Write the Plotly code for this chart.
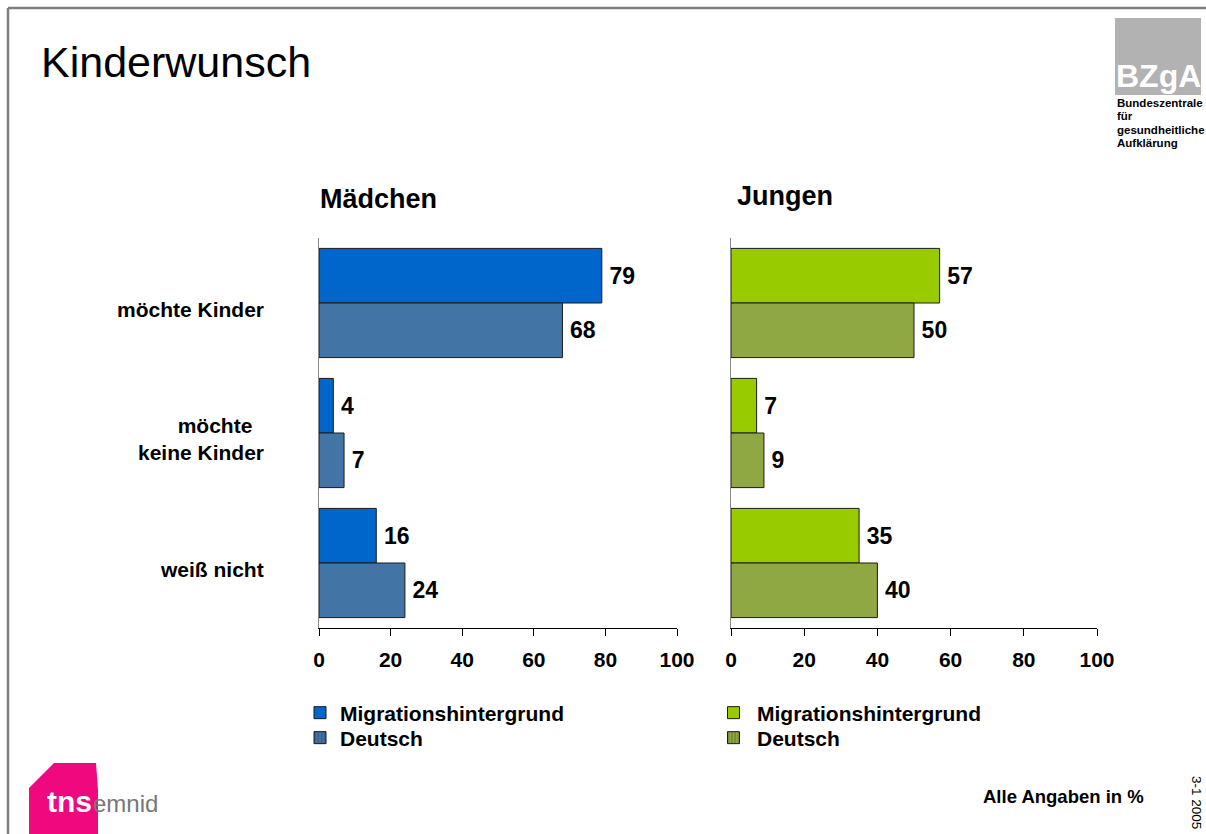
import plotly.graph_objects as go

W, H = 1206, 834

# --- data ---------------------------------------------------------------
categories = ["möchte Kinder", "möchte keine Kinder", "weiß nicht"]
category_labels = ["möchte Kinder", "möchte\u00a0\u00a0<br>keine Kinder", "weiß nicht"]
series_names = ["Migrationshintergrund", "Deutsch"]

maedchen_migration = [79, 4, 16]
maedchen_deutsch = [68, 7, 24]
jungen_migration = [57, 7, 35]
jungen_deutsch = [50, 9, 40]

x_ticks = [0, 20, 40, 60, 80, 100]

panel_titles = ["Mädchen", "Jungen"]
logo_lines = ["Bundeszentrale", "für", "gesundheitliche", "Aufklärung"]

# --- styling ------------------------------------------------------------
FONT = "Liberation Sans, Arial, sans-serif"
BLUE_MIG = "#0066CC"
BLUE_DE = "#4274A6"
GREEN_MIG = "#99CC00"
GREEN_DE = "#8FA843"
BAR_W = 0.42


def px(x):
    return x / W


def py(y):
    return 1 - y / H


fig = go.Figure()

label_font = dict(family=FONT, size=23, color="black", weight="bold")


def add_panel(xa, ya, mig, de, c_mig, c_de, stripe, leg_mig, leg_de):
    fig.add_trace(go.Bar(
        x=mig, y=categories, orientation="h", name=series_names[0],
        xaxis=xa, yaxis=ya, offset=-BAR_W, width=BAR_W,
        marker=dict(color=c_mig, line=dict(color="#1a1a1a", width=1)),
        text=mig, texttemplate="\u2009%{x}", textposition="outside",
        textfont=label_font, cliponaxis=False,
        legend=leg_mig, showlegend=True, hoverinfo="skip",
    ))
    fig.add_trace(go.Bar(
        x=de, y=categories, orientation="h", name=series_names[1],
        xaxis=xa, yaxis=ya, offset=0, width=BAR_W,
        marker=dict(color=c_de, line=dict(color="#1a1a1a", width=1)),
        text=de, texttemplate="\u2009%{x}", textposition="outside",
        textfont=label_font, cliponaxis=False,
        showlegend=False, hoverinfo="skip",
    ))
    # legend-only entry with the striped swatch
    fig.add_trace(go.Bar(
        x=[None], y=[None], orientation="h", name=series_names[1],
        xaxis="x3", yaxis="y3",
        marker=dict(color=c_de, line=dict(color="#1a1a1a", width=1),
                    pattern=dict(shape="|", fgcolor=stripe, bgcolor=c_de,
                                 size=4, solidity=0.35)),
        legend=leg_de, showlegend=True,
    ))


add_panel("x", "y", maedchen_migration, maedchen_deutsch,
          BLUE_MIG, BLUE_DE, "#1f3a66", "legend", "legend2")
add_panel("x2", "y2", jungen_migration, jungen_deutsch,
          GREEN_MIG, GREEN_DE, "#4a5a10", "legend3", "legend4")

y_top, y_bot = 238, 628
xaxis_common = dict(
    range=[0, 100], tickvals=x_ticks, ticks="outside", ticklen=7,
    tickcolor="black", tickwidth=1, showline=True, linecolor="black",
    linewidth=1, showgrid=False, zeroline=False, fixedrange=True,
    ticklabelstandoff=6, automargin=False,
    tickfont=dict(family=FONT, size=21, color="black", weight="bold"),
)
yaxis_common = dict(
    categoryorder="array", categoryarray=categories, autorange="reversed",
    showline=True, linecolor="#888888", linewidth=1, showticklabels=False,
    ticks="", showgrid=False, zeroline=False, fixedrange=True, automargin=False,
    domain=[py(y_bot), py(y_top)],
)

legend_font = dict(family=FONT, size=21, color="black", weight="bold")


def legend_box(x, y, itemwidth=30):
    return dict(x=px(x), y=py(y), xanchor="left", yanchor="middle",
                font=legend_font, bgcolor="rgba(0,0,0,0)", itemwidth=itemwidth,
                itemclick=False, itemdoubleclick=False)


fig.update_layout(
    width=W, height=H, autosize=False,
    margin=dict(l=0, r=0, t=0, b=0, pad=0, autoexpand=False),
    paper_bgcolor="white", plot_bgcolor="rgba(0,0,0,0)",
    barmode="overlay",
    showlegend=True,
    font=dict(family=FONT, color="black"),
    xaxis=dict(xaxis_common, domain=[px(319), px(677)], anchor="y"),
    yaxis=dict(yaxis_common, anchor="x"),
    xaxis2=dict(xaxis_common, domain=[px(731), px(1097)], anchor="y2"),
    yaxis2=dict(yaxis_common, anchor="x2"),
    xaxis3=dict(visible=False, domain=[0, 0.001], anchor="y3"),
    yaxis3=dict(visible=False, domain=[0, 0.001], anchor="x3"),
    legend=legend_box(300, 713),
    legend2=legend_box(300, 738),
    legend3=legend_box(710, 713, 37),
    legend4=legend_box(710, 738, 37),
)

annotations = []
# page title
annotations.append(dict(x=px(39), y=py(62), xref="paper", yref="paper",
                        text="Kinderwunsch", showarrow=False, xanchor="left",
                        yanchor="middle", font=dict(family=FONT, size=43, color="black")))
# panel titles
for title, xpos, ypos in zip(panel_titles, [318, 735], [199, 196]):
    annotations.append(dict(x=px(xpos), y=py(ypos), xref="paper", yref="paper",
                            text=title, showarrow=False, xanchor="left", yanchor="middle",
                            font=dict(family=FONT, size=27, color="black", weight="bold")))
# category labels
for cat, lab in zip(categories, category_labels):
    annotations.append(dict(x=px(266), y=cat, xref="paper", yref="y", yshift=-6,
                            text=lab, showarrow=False, xanchor="right", yanchor="middle",
                            align="right",
                            font=dict(family=FONT, size=21, color="black", weight="bold")))
# footer
annotations.append(dict(x=px(1146), y=py(796), xref="paper", yref="paper",
                        text="Alle Angaben in %", showarrow=False, xanchor="right",
                        yanchor="middle",
                        font=dict(family=FONT, size=18.5, color="black", weight="bold")))
annotations.append(dict(x=px(1197), y=py(802), xref="paper", yref="paper",
                        text="3-1 2005", showarrow=False, textangle=90,
                        xanchor="center", yanchor="middle",
                        font=dict(family=FONT, size=13.5, color="black")))
# BZgA logo
annotations.append(dict(x=px(1158), y=py(76), xref="paper", yref="paper",
                        text="BZgA", showarrow=False, xanchor="center", yanchor="middle",
                        font=dict(family=FONT, size=32, color="white", weight="bold")))
for i, line in enumerate(logo_lines):
    annotations.append(dict(x=px(1115), y=py(103 + 13.3 * i), xref="paper", yref="paper",
                            text=line, showarrow=False, xanchor="left", yanchor="middle",
                            font=dict(family=FONT, size=11.5, color="black", weight="bold")))
# tns emnid logo
annotations.append(dict(x=px(45), y=py(801), xref="paper", yref="paper",
                        text="tns", showarrow=False, xanchor="left", yanchor="middle",
                        font=dict(family=FONT, size=30, color="white", weight="bold")))
annotations.append(dict(x=px(91), y=py(803), xref="paper", yref="paper",
                        text="emnid", showarrow=False, xanchor="left", yanchor="middle",
                        font=dict(family="Liberation Sans Narrow, Liberation Sans, sans-serif",
                                  size=24, color="#777777")))
fig.update_layout(annotations=annotations)

shapes = [
    # slide frame
    dict(type="line", xref="paper", yref="paper", x0=px(8), x1=px(8), y0=py(8), y1=0,
         line=dict(color="#7f7f7f", width=2.5)),
    dict(type="line", xref="paper", yref="paper", x0=px(8), x1=1, y0=py(8), y1=py(8),
         line=dict(color="#7f7f7f", width=2.5)),
    # BZgA box
    dict(type="rect", xref="paper", yref="paper", x0=px(1115), x1=px(1201),
         y0=py(95), y1=py(18), fillcolor="#B2B2B2", line=dict(width=0), layer="below"),
    # tns emblem
    dict(type="path", xref="paper", yref="paper",
         path=f"M {px(29)},{py(834)} L {px(29)},{py(788)} L {px(54)},{py(763)} "
              f"L {px(96)},{py(763)} L {px(98)},{py(790)} L {px(98)},{py(834)} Z",
         fillcolor="#F0087F", line=dict(width=0), layer="below"),
]
fig.update_layout(shapes=shapes)

fig.write_html(
    "out.html",
    config={"responsive": False, "displayModeBar": False},
    post_script="document.body.style.margin='0';document.body.style.overflow='hidden';",
)
